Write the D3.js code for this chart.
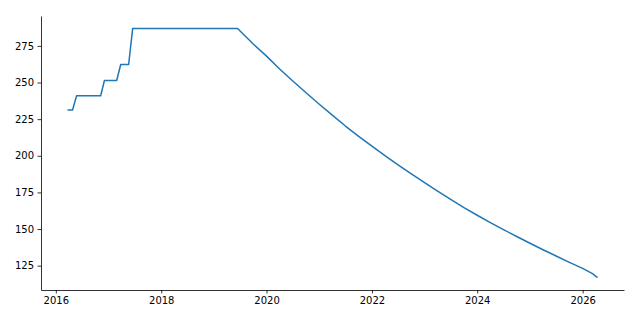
<!DOCTYPE html>
<html>
<head>
<meta charset="utf-8">
<script src="https://cdn.jsdelivr.net/npm/d3@7"></script>
<style>
  html, body { margin: 0; padding: 0; background: #fff; }
  svg { display: block; }
  .tick text { font-family: "DejaVu Sans", sans-serif; font-size: 10px; fill: #000; }
</style>
</head>
<body>
<svg id="chart" width="640" height="320"></svg>
<script>
// Dates of the series points
const dates = [
  "2016-03-22", "2016-04-26", "2016-05-24", "2016-11-07", "2016-12-03",
  "2017-02-26", "2017-03-26", "2017-05-20", "2017-06-17", "2019-06-14",
  "2019-10-01",
  "2020-01-01", "2020-04-01", "2020-07-01", "2020-10-01",
  "2021-01-01", "2021-04-01", "2021-07-01", "2021-10-01",
  "2022-01-01", "2022-04-01", "2022-07-01", "2022-10-01",
  "2023-01-01", "2023-04-01", "2023-07-01", "2023-10-01",
  "2024-01-01", "2024-04-01", "2024-07-01", "2024-10-01",
  "2025-01-01", "2025-04-01", "2025-07-01", "2025-10-01",
  "2026-01-01", "2026-03-10", "2026-04-14"
];
// Values at those dates
const values = [
  231.2, 231.2, 241.0, 241.0, 251.4,
  251.4, 262.3, 262.3, 286.9, 286.9,
  276.3,
  268.0, 259.2, 251.0, 243.0,
  235.2, 227.7, 220.3, 213.3,
  206.6, 200.1, 193.8, 187.7,
  181.7, 175.9, 170.2, 164.6,
  159.4, 154.4, 149.6, 144.9,
  140.3, 135.9, 131.6, 127.3,
  123.2, 119.6, 116.9
];
const yTicks = [125, 150, 175, 200, 225, 250, 275];
const xTickYears = [2016, 2018, 2020, 2022, 2024, 2026];

const parse = d3.timeParse("%Y-%m-%d");
const data = dates.map((d, i) => ({ date: parse(d), value: values[i] }));

const margin = { left: 41, right: 16, top: 16, bottom: 30 };
const W = 640, H = 320;
const svg = d3.select("#chart");

const xExt = d3.extent(data, d => d.date.getTime());
const xPad = (xExt[1] - xExt[0]) * 0.05;
const x = d3.scaleTime()
  .domain([new Date(xExt[0] - xPad), new Date(xExt[1] + xPad)])
  .range([margin.left, W - margin.right]);

const yExt = d3.extent(values);
const yPad = (yExt[1] - yExt[0]) * 0.05;
const y = d3.scaleLinear()
  .domain([yExt[0] - yPad, yExt[1] + yPad])
  .range([H - margin.bottom, margin.top]);

const xAxis = d3.axisBottom(x)
  .tickValues(xTickYears.map(yr => new Date(yr, 0, 1)))
  .tickFormat(d3.timeFormat("%Y"))
  .tickSizeInner(3.5).tickSizeOuter(0).tickPadding(3.5);
const gx = svg.append("g")
  .attr("transform", `translate(0,${H - margin.bottom})`)
  .call(xAxis);

const yAxis = d3.axisLeft(y)
  .tickValues(yTicks)
  .tickSizeInner(3.5).tickSizeOuter(0).tickPadding(3.5);
const gy = svg.append("g")
  .attr("transform", `translate(${margin.left},0)`)
  .call(yAxis);

[gx, gy].forEach(g => {
  g.selectAll(".domain").attr("stroke", "#000").attr("stroke-width", 0.8);
  g.selectAll(".tick line").attr("stroke", "#000").attr("stroke-width", 0.8);
});

const line = d3.line()
  .x(d => x(d.date))
  .y(d => y(d.value));

svg.append("path")
  .datum(data)
  .attr("fill", "none")
  .attr("stroke", "#1f77b4")
  .attr("stroke-width", 1.5)
  .attr("stroke-linejoin", "round")
  .attr("stroke-linecap", "butt")
  .attr("d", line);
</script>
</body>
</html>
